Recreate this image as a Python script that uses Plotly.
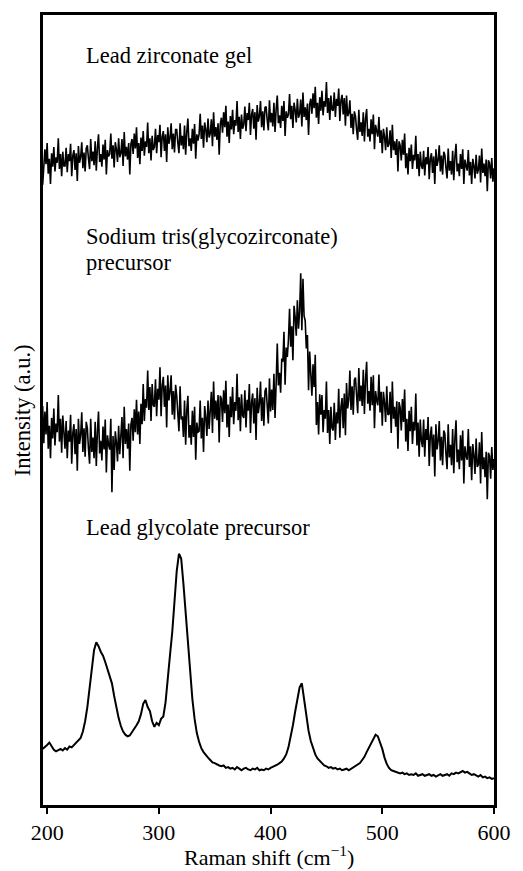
import plotly.graph_objects as go

# Raman shift sampling grids (cm^-1)
raman_shift_fine = list(range(196, 601))      # noisy spectra, 1 cm^-1 steps
raman_shift = list(range(196, 601, 2))        # lead glycolate spectrum, 2 cm^-1 steps

# Displayed (offset-stacked) intensities, arbitrary units
lead_zirconate_gel = [
    78.5, 80.4, 83.0, 81.1, 83.8, 79.9, 81.8, 78.6, 82.5, 80.8, 83.3, 80.2, 82.0, 81.3, 84.4, 80.5, 82.4, 79.6, 82.7, 80.9,
    80.9, 83.2, 80.1, 82.4, 81.5, 83.7, 79.6, 82.2, 82.9, 80.4, 82.5, 79.0, 83.4, 81.3, 82.0, 83.9, 80.6, 82.6, 80.2, 83.1,
    83.5, 81.8, 80.5, 84.3, 81.5, 82.7, 81.0, 84.0, 80.3, 83.2, 84.9, 81.4, 82.4, 80.8, 83.6, 81.7, 84.2, 79.8, 82.9, 82.1,
    82.4, 85.0, 81.8, 83.5, 80.7, 83.9, 83.0, 81.4, 84.4, 82.0, 82.5, 84.3, 80.9, 85.2, 82.1, 83.3, 81.7, 83.8, 79.8, 83.7,
    84.3, 82.4, 85.0, 83.1, 85.8, 81.9, 83.8, 81.1, 84.5, 82.8, 85.3, 82.2, 84.0, 83.3, 86.4, 82.5, 84.4, 81.6, 84.7, 82.9,
    83.3, 85.6, 82.5, 84.8, 83.9, 86.1, 82.0, 84.6, 85.3, 82.8, 84.9, 81.4, 85.8, 83.7, 84.4, 86.3, 83.0, 85.0, 82.6, 85.5,
    85.5, 83.8, 82.5, 86.3, 83.5, 84.7, 83.0, 86.0, 82.3, 85.2, 86.9, 83.4, 84.4, 82.8, 85.6, 83.7, 86.2, 81.8, 84.9, 84.1,
    84.9, 87.5, 84.3, 86.0, 83.2, 86.4, 85.5, 83.9, 86.9, 84.5, 85.0, 86.8, 83.4, 87.7, 84.6, 85.8, 84.2, 86.3, 82.3, 86.2,
    87.0, 85.1, 87.7, 85.8, 88.5, 84.6, 86.5, 83.8, 87.2, 85.5, 88.0, 84.9, 86.7, 86.0, 89.1, 85.2, 87.1, 84.3, 87.4, 85.6,
    86.1, 88.4, 85.3, 87.6, 86.7, 88.9, 84.8, 87.4, 88.1, 85.6, 87.7, 84.2, 88.6, 86.5, 87.2, 89.1, 85.8, 87.8, 85.4, 88.3,
    88.4, 86.7, 85.4, 89.2, 86.4, 87.6, 85.9, 88.9, 85.2, 88.1, 89.8, 86.3, 87.3, 85.7, 88.5, 86.6, 89.1, 84.7, 87.8, 87.0,
    87.4, 90.0, 86.8, 88.5, 85.7, 88.9, 88.0, 86.4, 89.4, 87.0, 87.5, 89.3, 85.9, 90.2, 87.1, 88.3, 86.7, 88.8, 84.8, 88.7,
    89.4, 87.5, 90.1, 88.2, 90.9, 87.0, 88.9, 86.2, 89.6, 87.9, 90.4, 87.3, 89.1, 88.4, 91.5, 87.6, 89.5, 86.7, 89.8, 88.0,
    87.9, 90.2, 87.1, 89.4, 88.5, 90.7, 86.6, 89.2, 89.9, 87.4, 89.5, 86.0, 89.8, 87.2, 87.6, 89.2, 85.7, 87.5, 84.9, 87.8,
    87.2, 85.5, 84.2, 88.0, 85.2, 86.4, 84.7, 87.7, 84.0, 86.9, 88.1, 84.6, 85.6, 84.0, 86.8, 84.9, 87.4, 83.0, 86.1, 85.3,
    84.6, 87.1, 83.8, 85.4, 82.5, 85.6, 84.6, 82.9, 85.8, 83.3, 83.7, 85.4, 81.9, 86.1, 82.9, 84.0, 82.3, 84.3, 80.2, 84.0,
    83.5, 81.6, 84.2, 82.3, 85.0, 80.6, 82.5, 79.8, 83.2, 81.5, 83.6, 80.5, 82.3, 81.6, 84.7, 80.5, 82.4, 79.6, 82.7, 80.9,
    80.5, 82.8, 79.7, 82.0, 81.1, 83.3, 79.2, 81.8, 82.5, 80.0, 82.1, 78.6, 83.0, 80.9, 81.6, 83.5, 80.2, 82.2, 79.8, 82.7,
    82.3, 80.6, 79.3, 83.1, 80.3, 81.5, 79.8, 82.8, 79.1, 82.0, 83.7, 80.2, 81.2, 79.6, 82.4, 80.5, 83.0, 78.6, 81.7, 80.9,
    80.3, 82.9, 79.7, 81.4, 78.6, 81.8, 80.9, 79.3, 82.3, 79.9, 80.4, 82.2, 78.8, 83.1, 80.0, 81.2, 79.6, 81.7, 77.7, 81.6,
    81.2, 79.3, 81.9, 78.9, 80.6,
]

sodium_tris_glycozirconate = [
    50.5, 45.8, 49.8, 46.9, 51.0, 45.1, 48.0, 43.9, 49.0, 46.4, 50.2, 45.5, 48.3, 47.2, 51.9, 46.0, 48.9, 44.6, 49.3, 46.6,
    45.1, 48.6, 43.9, 47.4, 46.0, 49.4, 43.2, 47.1, 48.2, 44.4, 47.6, 42.3, 48.9, 45.7, 46.8, 49.7, 44.7, 47.7, 44.1, 48.5,
    47.7, 45.1, 43.2, 48.9, 44.7, 46.5, 43.9, 48.5, 42.9, 47.3, 49.8, 44.5, 46.1, 43.6, 47.9, 45.0, 48.8, 42.1, 46.8, 45.6,
    45.0, 48.9, 39.6, 46.7, 42.4, 47.3, 45.9, 43.5, 48.0, 44.4, 46.3, 49.1, 43.9, 50.4, 45.7, 47.6, 45.1, 48.3, 42.3, 48.2,
    49.0, 46.1, 50.1, 47.2, 51.3, 46.9, 49.8, 45.7, 50.8, 48.2, 53.3, 48.6, 51.4, 50.3, 55.0, 50.0, 52.9, 48.6, 53.3, 50.6,
    50.4, 53.9, 49.2, 52.7, 51.3, 55.4, 49.2, 53.1, 54.2, 50.4, 53.1, 47.8, 54.4, 51.2, 52.3, 54.4, 49.4, 52.4, 48.8, 53.2,
    51.8, 49.2, 47.3, 53.0, 48.8, 49.2, 46.6, 51.2, 45.6, 50.0, 51.8, 46.5, 48.1, 45.6, 49.9, 46.6, 50.4, 43.7, 48.4, 47.2,
    47.3, 51.2, 46.4, 49.0, 44.7, 50.5, 49.1, 46.7, 51.2, 47.6, 49.5, 52.3, 47.1, 53.6, 48.9, 51.2, 48.7, 51.9, 45.9, 51.8,
    51.4, 48.5, 52.5, 49.6, 53.7, 47.8, 50.7, 46.6, 51.7, 49.1, 52.9, 48.2, 51.0, 49.9, 54.6, 48.7, 51.6, 47.3, 52.0, 49.3,
    49.0, 52.5, 47.8, 51.3, 49.9, 53.3, 47.1, 51.0, 52.1, 48.3, 51.5, 46.2, 52.8, 49.6, 50.7, 53.6, 48.6, 51.6, 48.0, 52.4,
    52.8, 50.2, 48.3, 54.0, 49.8, 52.6, 50.0, 54.6, 49.0, 53.4, 58.4, 53.1, 54.7, 52.2, 56.5, 56.1, 59.9, 53.2, 57.9, 56.7,
    58.9, 62.8, 58.0, 60.6, 56.3, 63.2, 61.8, 59.4, 63.9, 60.3, 62.5, 67.3, 60.1, 66.6, 61.9, 61.3, 57.8, 59.5, 52.5, 57.4,
    54.7, 51.8, 55.8, 52.9, 57.0, 48.1, 51.0, 46.9, 52.0, 49.4, 51.9, 47.2, 50.0, 48.9, 53.6, 47.1, 50.0, 45.7, 50.4, 47.7,
    47.4, 50.9, 46.2, 49.7, 48.3, 52.7, 46.5, 50.4, 51.5, 47.7, 52.1, 46.8, 53.4, 50.2, 51.3, 55.0, 50.0, 53.0, 49.4, 53.8,
    54.1, 51.5, 49.6, 55.3, 51.1, 53.1, 50.5, 55.1, 49.5, 53.9, 56.1, 50.8, 52.4, 49.9, 54.2, 50.6, 54.4, 47.7, 52.4, 51.2,
    50.6, 54.5, 49.7, 52.3, 48.0, 52.3, 50.9, 48.5, 53.0, 49.4, 49.5, 52.3, 47.1, 53.6, 48.9, 50.4, 47.9, 51.1, 45.1, 51.0,
    50.3, 47.4, 51.4, 48.5, 52.6, 46.0, 48.9, 44.8, 49.9, 47.3, 50.4, 45.7, 48.5, 47.4, 52.1, 45.5, 48.4, 44.1, 48.8, 46.1,
    45.3, 48.8, 44.1, 47.6, 46.2, 49.1, 42.9, 46.8, 47.9, 44.1, 46.9, 41.6, 48.2, 45.0, 46.1, 48.6, 43.6, 46.6, 43.0, 47.4,
    47.0, 44.4, 42.5, 48.2, 44.0, 45.6, 43.0, 47.6, 42.0, 46.4, 48.7, 43.4, 45.0, 42.5, 46.8, 43.6, 47.4, 40.7, 45.4, 44.2,
    43.7, 47.6, 42.8, 45.4, 41.1, 45.7, 44.3, 41.9, 46.4, 42.8, 43.1, 45.9, 40.7, 47.2, 42.5, 44.0, 41.5, 44.7, 38.7, 44.6,
    44.2, 41.3, 45.3, 42.4, 43.8,
]

lead_glycolate = [
    7.1, 7.3, 7.6, 7.9, 7.5, 7.0, 6.8, 6.9, 7.1, 6.9,
    7.2, 7.0, 7.4, 7.3, 7.6, 7.9, 8.1, 8.5, 9.3, 10.6,
    12.4, 14.9, 17.3, 19.6, 20.6, 20.1, 19.4, 18.9, 18.1, 17.2,
    16.3, 15.4, 13.8, 12.3, 11.0, 10.0, 9.3, 8.9, 8.7, 8.8,
    9.2, 9.6, 10.1, 10.6, 11.5, 12.8, 13.3, 12.4, 11.9, 10.6,
    9.9, 10.4, 10.1, 10.9, 11.2, 13.0, 16.4, 19.0, 21.9, 25.8,
    29.6, 31.8, 31.2, 28.0, 24.2, 20.3, 16.6, 13.4, 10.9, 9.1,
    8.0, 7.2, 6.7, 6.3, 6.0, 5.7, 5.4, 5.3, 5.1, 5.0,
    4.9, 5.0, 4.7, 4.8, 4.6, 4.7, 4.5, 4.8, 4.6, 4.4,
    4.6, 4.7, 4.5, 4.4, 4.6, 4.5, 4.7, 4.4, 4.5, 4.4,
    4.6, 4.5, 4.7, 4.8, 4.9, 5.1, 5.3, 5.5, 5.9, 6.4,
    7.3, 8.5, 10.1, 11.8, 13.6, 14.9, 15.4, 13.4, 11.3, 9.4,
    8.1, 7.1, 6.4, 5.9, 5.6, 5.2, 5.0, 4.9, 4.7, 4.8,
    4.6, 4.7, 4.5, 4.6, 4.4, 4.5, 4.6, 4.4, 4.6, 4.7,
    4.9, 5.1, 5.3, 5.7, 6.1, 6.7, 7.3, 7.9, 8.5, 8.9,
    8.7, 8.0, 7.1, 6.0, 5.2, 4.7, 4.4, 4.3, 4.2, 4.1,
    4.0, 4.1, 3.9, 4.0, 3.8, 3.9, 3.8, 4.0, 3.7, 3.8,
    3.9, 3.7, 3.8, 3.9, 3.7, 3.8, 3.6, 3.8, 3.9, 3.7,
    3.8, 3.9, 3.7, 4.0, 3.9, 4.1, 4.0, 4.2, 4.3, 4.1,
    4.2, 4.0, 3.8, 3.9, 3.7, 3.6, 3.8, 3.5, 3.6, 3.4,
    3.5, 3.3, 3.4,
]

x_ticks = [200, 300, 400, 500, 600]
series_labels = ["Lead zirconate gel", "Sodium tris(glycozirconate)", "precursor",
                 "Lead glycolate precursor"]

FONT = "Liberation Serif"
TXT = 22.5

fig = go.Figure()
for xs, ys, w in [(raman_shift_fine, lead_zirconate_gel, 1.6),
                  (raman_shift_fine, sodium_tris_glycozirconate, 1.6),
                  (raman_shift, lead_glycolate, 2.0)]:
    fig.add_trace(go.Scatter(x=xs, y=ys, mode="lines",
                             line=dict(color="black", width=w), showlegend=False,
                             hoverinfo="skip"))

label_pos = [(0.949, series_labels[0]), (0.720, series_labels[1]),
             (0.687, series_labels[2]), (0.351, series_labels[3])]
for yp, t in label_pos:
    fig.add_annotation(text=t, xref="paper", yref="paper", x=0.091, y=yp,
                       xanchor="left", yanchor="middle", showarrow=False,
                       font=dict(family=FONT, size=TXT, color="black"))

fig.add_annotation(text="Intensity (a.u.)", xref="paper", yref="paper",
                   x=-0.046, y=0.5, xanchor="center", yanchor="middle",
                   textangle=-90, showarrow=False,
                   font=dict(family=FONT, size=TXT, color="black"))
fig.add_annotation(text="Raman shift (cm<sup>−1</sup>)", xref="paper", yref="paper",
                   x=0.5, y=-0.064, xanchor="center", yanchor="middle",
                   showarrow=False, font=dict(family=FONT, size=22, color="black"))

fig.update_xaxes(range=[196.3, 600], tickvals=x_ticks, ticktext=[str(v) for v in x_ticks],
                 ticks="outside", ticklen=6, tickwidth=1.5, tickcolor="black",
                 showline=True, linecolor="black", linewidth=3, mirror=True,
                 showgrid=False, zeroline=False,
                 tickfont=dict(family=FONT, size=22, color="black"))
fig.update_yaxes(range=[0, 100], showticklabels=False, ticks="",
                 showline=True, linecolor="black", linewidth=3, mirror=True,
                 showgrid=False, zeroline=False)

fig.update_layout(width=523, height=871,
                  margin=dict(l=43, r=17, t=15, b=66),
                  paper_bgcolor="white", plot_bgcolor="white",
                  font=dict(family=FONT, color="black"))

fig.write_html("out.html")
